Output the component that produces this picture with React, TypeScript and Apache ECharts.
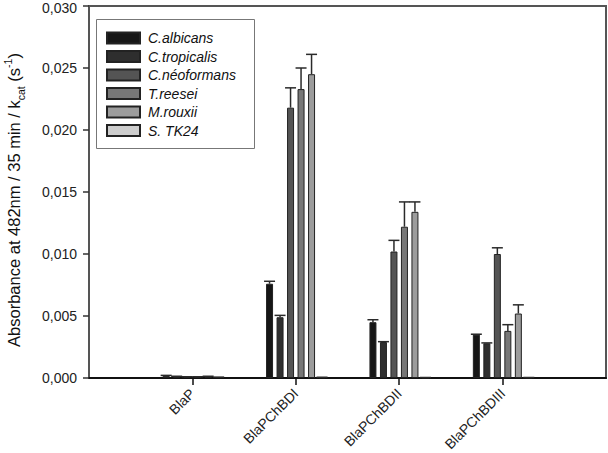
import React, { useEffect, useRef } from "react";
import * as echarts from "echarts";

const categories = ["", "BlaP", "BlaPChBDI", "BlaPChBDII", "BlaPChBDIII", ""];
const seriesNames = ["C.albicans", "C.tropicalis", "C.néoformans", "T.reesei", "M.rouxii", "S. TK24"];
const seriesColors = ["#161616", "#2e2e2e", "#545454", "#777777", "#9c9c9c", "#cdcdcd"];

const albicans = [0.00018, 0.0076, 0.0045, 0.0035];
const albicansErr = [0.00003, 0.0002, 0.0002, 0.00003];
const tropicalis = [0.00012, 0.0049, 0.0029, 0.0028];
const tropicalisErr = [0.00002, 0.00015, 0.00003, 0.00003];
const neoformans = [0.00008, 0.0218, 0.0102, 0.01];
const neoformansErr = [0.00002, 0.0016, 0.0009, 0.0005];
const reesei = [0.00008, 0.0233, 0.0122, 0.0038];
const reeseiErr = [0.00002, 0.0017, 0.002, 0.0005];
const rouxii = [0.00012, 0.0245, 0.0134, 0.0052];
const rouxiiErr = [0.00002, 0.0016, 0.0008, 0.0007];
const tk24 = [0.00006, 0.00005, 0.00003, 0.00003];
const tk24Err = [0.00001, 0.00001, 0.00001, 0.00001];

const allValues = [albicans, tropicalis, neoformans, reesei, rouxii, tk24];
const allErrs = [albicansErr, tropicalisErr, neoformansErr, reeseiErr, rouxiiErr, tk24Err];

const BAR_W = 7;
const BAR_GAP = 0.5;

export default function App() {
  const ref = useRef<HTMLDivElement>(null);
  useEffect(() => {
    document.body.style.margin = "0";
    const chart = echarts.init(ref.current!, null, { renderer: "svg" });
    const font = "'Liberation Sans', Arial, sans-serif";
    const pitch = BAR_W * (1 + BAR_GAP);

    const barSeries = seriesNames.map((name, s) => ({
      name,
      type: "bar",
      barWidth: BAR_W,
      barGap: BAR_GAP * 100 + "%",
      data: ["-", ...allValues[s], "-"],
      itemStyle: { color: seriesColors[s], borderColor: "#222", borderWidth: 1 },
    }));

    const errData: number[][] = [];
    allValues.forEach((vals, s) => {
      vals.forEach((v, c) => errData.push([c + 1, v, allErrs[s][c], s]));
    });

    const errSeries = {
      type: "custom",
      z: 5,
      silent: true,
      encode: { x: 0, y: 1 },
      data: errData,
      renderItem: (_p: any, api: any) => {
        const c = api.value(0);
        const v = api.value(1);
        const e = api.value(2);
        const s = api.value(3);
        const base = api.coord([c, v]);
        const top = api.coord([c, v + e]);
        const x = base[0] + (s - 2.5) * pitch;
        const st = { stroke: "#2a2a2a", lineWidth: 1.5 };
        return {
          type: "group",
          children: [
            { type: "line", shape: { x1: x, y1: base[1], x2: x, y2: top[1] }, style: st },
            { type: "line", shape: { x1: x - 5.5, y1: top[1], x2: x + 5.5, y2: top[1] }, style: st },
          ],
        };
      },
    };

    chart.setOption({
      animation: false,
      textStyle: { fontFamily: font },
      grid: {
        left: 89,
        right: 2,
        top: 6,
        bottom: 75,
        show: true,
        borderColor: "#555",
        borderWidth: 2,
        containLabel: false,
        outerBoundsMode: "none",
      },
      graphic: [
        {
          type: "rect",
          silent: true,
          z: 10,
          shape: { x: 96.5, y: 19.5, width: 158, height: 129 },
          style: { fill: "none", stroke: "#777", lineWidth: 1 },
        },
      ],
      legend: {
        orient: "vertical",
        left: 96,
        top: 19,
        data: seriesNames,
        icon: "rect",
        itemWidth: 33,
        itemHeight: 11,
        itemGap: 4.5,
        padding: [12, 15, 11, 10],
        borderWidth: 0,
        textStyle: {
          fontFamily: font,
          fontStyle: "italic",
          fontSize: 14,
          color: "#111",
          padding: [0, 0, 0, 3],
          lineHeight: 14,
        },
      },
      xAxis: {
        type: "category",
        data: categories,
        boundaryGap: false,
        axisLine: { lineStyle: { color: "#111", width: 2 } },
        axisTick: {
          length: 7,
          lineStyle: { color: "#111", width: 1.5 },
          interval: (i: number) => i > 0 && i < categories.length - 1,
        },
        axisLabel: {
          rotate: 45,
          fontSize: 14,
          color: "#222",
          margin: 13,
          fontFamily: font,
        },
      },
      yAxis: {
        type: "value",
        min: 0,
        max: 0.03,
        interval: 0.005,
        splitLine: { show: false },
        axisLine: { show: true, lineStyle: { color: "#555", width: 2 } },
        axisTick: { show: true, length: 6, lineStyle: { color: "#333", width: 1.5 } },
        axisLabel: {
          fontSize: 14,
          color: "#222",
          margin: 12,
          fontFamily: font,
          formatter: (v: number) => {
            const t = v.toFixed(3).replace(".", ",");
            return v >= 0.0299 ? "{top|" + t + "}" : t;
          },
          rich: {
            top: { fontSize: 14, color: "#222", fontFamily: font, padding: [4, 0, 0, 0] },
          },
        },
        name: "{m|Absorbance at 482nm / 35 min / k}{sub|cat}{m| (s}{sup|-1}{m|)}",
        nameLocation: "middle",
        nameRotate: 90,
        nameGap: 63,
        nameTextStyle: {
          fontFamily: font,
          padding: [0, 16, 0, 0],
          rich: {
            m: { fontSize: 16.5, color: "#111", fontFamily: font, lineHeight: 24, verticalAlign: "middle" },
            sub: { fontSize: 10.5, color: "#111", fontFamily: font, verticalAlign: "bottom", lineHeight: 11 },
            sup: { fontSize: 10.5, color: "#111", fontFamily: font, verticalAlign: "top", lineHeight: 11 },
          },
        },
      },
      series: [...barSeries, errSeries],
    });
    return () => chart.dispose();
  }, []);
  return <div ref={ref} style={{ width: 608, height: 453 }} />;
}
